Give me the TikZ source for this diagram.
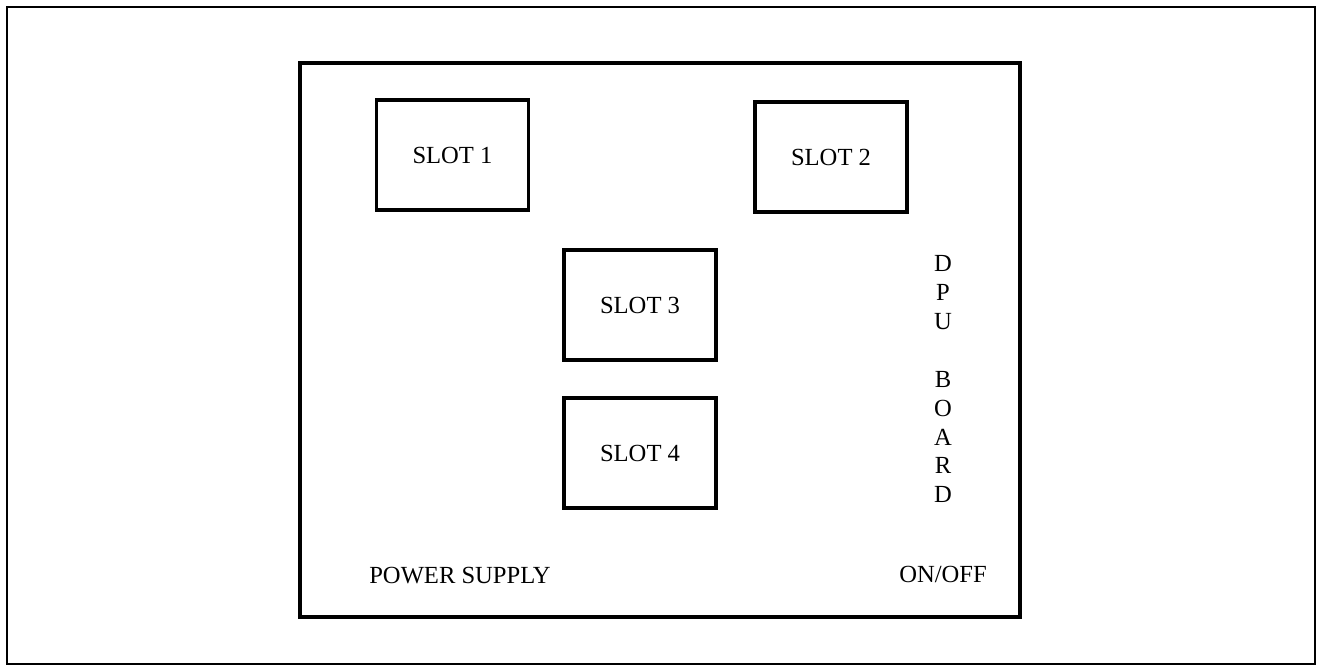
\documentclass[tikz,border=0pt]{standalone}
\usepackage{fontspec}
\setmainfont{Liberation Serif}
\usetikzlibrary{positioning}

\begin{document}
\begin{tikzpicture}[
    x=0.02cm, y=-0.02cm,
    frame/.style={rectangle, draw, line width=1.1pt, inner sep=0pt},
    board/.style={rectangle, draw, line width=2.2pt, inner sep=0pt},
    slot/.style={rectangle, draw, line width=2.2pt, minimum width=3.04cm, minimum height=2.2cm, font=\fontsize{14}{16.5}\selectfont},
    label/.style={font=\fontsize{14}{16.5}\selectfont, inner sep=0pt}
]
\useasboundingbox (0,0) rectangle (1322,668);
\node[frame, minimum width=26.16cm, minimum height=13.14cm] (outer) at (661,335.5) {};
\node[board, minimum width=14.4cm, minimum height=11.08cm] (dpu) at (660,340) {};

\node[slot] (slot1) at (452.5,155) {SLOT 1};
\node[slot] (slot2) at (831,157) {SLOT 2};
\node[slot] (slot3) at (640,305) {SLOT 3};
\node[slot] (slot4) at (640,453) {SLOT 4};

\node[label, align=center] (name) at (943,379) {D\\P\\U\\[16.5pt]B\\O\\A\\R\\D};
\node[label] (power) at (460,576) {POWER SUPPLY};
\node[label] (onoff) at (943,574) {ON/OFF};
\end{tikzpicture}
\end{document}
